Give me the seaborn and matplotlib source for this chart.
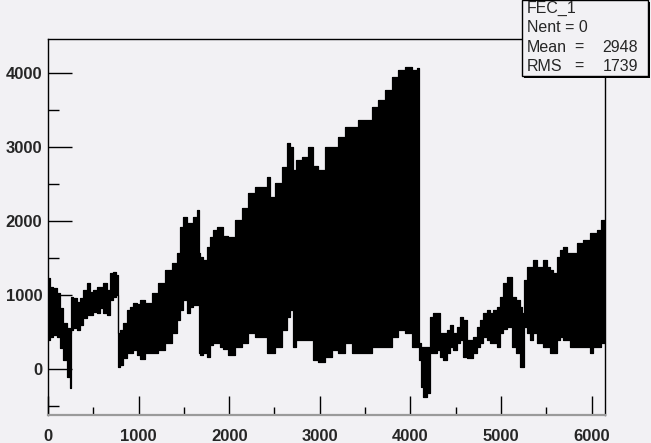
import matplotlib
matplotlib.use("Agg")
import matplotlib.pyplot as plt
import seaborn as sns
import pandas as pd
from matplotlib.patches import Rectangle
from matplotlib.ticker import MultipleLocator

# envelope of the FEC_1 channel trace
env_x = [0, 40, 77, 114, 151, 188, 224, 254, 261, 298, 335, 372, 408, 445, 482, 519,
         555, 593, 629, 666, 703, 740, 769, 776, 813, 850, 886, 924, 960, 997, 1034,
         1107, 1181, 1255, 1328, 1402, 1438, 1476, 1512, 1549, 1586, 1623, 1659, 1670,
         1696, 1733, 1769, 1807, 1843, 1880, 1917, 1954, 2028, 2100, 2174, 2248, 2320,
         2395, 2432, 2468, 2542, 2616, 2652, 2690, 2708, 2763, 2837, 2911, 2947, 3021,
         3094, 3168, 3242, 3315, 3389, 3462, 3535, 3609, 3683, 3756, 3830, 3904, 3977,
         4051, 4095, 4106, 4124, 4161, 4198, 4235, 4272, 4308, 4346, 4382, 4418, 4456,
         4492, 4529, 4566, 4603, 4640, 4677, 4713, 4750, 4787, 4823, 4860, 4898, 4934,
         4970, 5008, 5044, 5099, 5136, 5191, 5228, 5246, 5265, 5302, 5338, 5375, 5412,
         5449, 5486, 5522, 5559, 5596, 5633, 5670, 5706, 5743, 5780, 5817, 5853, 5890,
         5927, 5964, 6001, 6038, 6074, 6130, 6144]
env_upper = [1234, 1116, 1098, 1027, 824, 621, 554, 490, 981, 959, 914, 963, 1072, 1162,
             1049, 1072, 1116, 1116, 1162, 1072, 1297, 1319, 1274, 486, 531, 621, 801,
             846, 892, 880, 936, 892, 1027, 1162, 1342, 1432, 1568, 1927, 2062, 1973,
             1973, 2062, 2153, 1568, 1522, 1477, 1657, 1792, 1882, 1927, 1927, 1800,
             1792, 2018, 2176, 2378, 2468, 2468, 2603, 2332, 2514, 2738, 3054, 3008,
             2693, 2828, 2873, 3008, 2750, 2700, 3008, 3008, 3143, 3278, 3278, 3369,
             3369, 3549, 3639, 3774, 3954, 4045, 4089, 4045, 4067, 351, 305, 305, 305,
             711, 757, 757, 486, 486, 531, 599, 486, 576, 711, 666, 396, 396, 440, 576,
             666, 757, 801, 757, 801, 846, 981, 1160, 1251, 981, 936, 846, 757, 1207,
             1387, 1387, 1477, 1387, 1387, 1477, 1387, 1342, 1297, 1522, 1612, 1657,
             1568, 1568, 1568, 1703, 1703, 1747, 1747, 1838, 1838, 1882, 2018, 2018]
env_lower = [396, 440, 463, 440, 284, 126, -100, -257, 531, 554, 531, 599, 693, 734, 734,
             779, 757, 824, 757, 734, 936, 981, 1004, 35, 58, 149, 216, 216, 261, 193,
             140, 216, 216, 261, 351, 486, 666, 801, 936, 757, 846, 869, 869, 216, 193,
             216, 170, 328, 351, 351, 305, 280, 190, 305, 351, 486, 440, 440, 216, 216,
             305, 531, 711, 801, 305, 396, 396, 396, 126, 100, 170, 261, 216, 351, 216,
             216, 216, 305, 305, 305, 440, 531, 486, 305, 305, 126, -235, -370, -324,
             216, 216, 261, 170, 126, 216, 305, 261, 351, 396, 170, 149, 149, 216, 305,
             351, 440, 396, 351, 351, 305, 486, 550, 576, 305, 216, 35, 35, 576, 486,
             396, 486, 351, 351, 305, 305, 216, 216, 396, 440, 396, 396, 305, 305, 305,
             305, 305, 305, 216, 305, 305, 351, 351]

stat_name = "FEC_1"
stat_nent = 0
stat_mean = 2948
stat_rms = 1739

bg = "#f2f1f4"
sns.set_theme(style="ticks")
plt.rcParams["font.family"] = ["Liberation Sans", "DejaVu Sans"]

df = pd.DataFrame({"x": env_x, "upper": env_upper, "lower": env_lower})

fig = plt.figure(figsize=(6.51, 4.43), dpi=100, facecolor=bg)
W, H = 651, 443
ax = fig.add_axes([48 / W, 1 - 415 / H, (605 - 48) / W, (415 - 39) / H])
ax.set_facecolor(bg)

# histogram-like blocky envelope
ax.fill_between(df["x"], df["lower"], df["upper"], color="black", lw=0.8, step="mid")
sns.lineplot(data=df, x="x", y="upper", ax=ax, color="black", lw=0.8, drawstyle="steps-mid")
sns.lineplot(data=df, x="x", y="lower", ax=ax, color="black", lw=0.8, drawstyle="steps-mid")

ax.set_xlim(0, 6148)
ax.set_ylim(-618, 4464)
ax.set_xlabel("")
ax.set_ylabel("")
ax.xaxis.set_major_locator(MultipleLocator(1000))
ax.xaxis.set_minor_locator(MultipleLocator(500))
ax.yaxis.set_major_locator(MultipleLocator(1000))
ax.yaxis.set_minor_locator(MultipleLocator(500))
ax.tick_params(axis="x", which="major", direction="in", length=14, width=1, color="black",
               labelsize=12, pad=10)
ax.tick_params(axis="x", which="minor", direction="in", length=6, width=1, color="black")
ax.tick_params(axis="y", which="major", direction="in", length=17, width=1, color="black",
               labelsize=12, pad=4)
ax.tick_params(axis="y", which="minor", direction="in", length=8, width=1, color="black")
for lab in ax.get_xticklabels() + ax.get_yticklabels():
    lab.set_fontweight("bold")
for s in ax.spines.values():
    s.set_color("black")
    s.set_linewidth(1)
ax.spines["bottom"].set_color("#9a9a9a")
ax.spines["bottom"].set_linewidth(1.6)

# stats box with shadow, top right
bx0, by0, bx1, by1 = 522, 0, 648, 76
fig.patches.append(Rectangle((bx0 / W + 2 / W, 1 - (by1 + 2) / H), (bx1 - bx0) / W, (by1 - by0) / H,
                             transform=fig.transFigure, facecolor="black", edgecolor="none", zorder=5))
fig.patches.append(Rectangle((bx0 / W, 1 - by1 / H), (bx1 - bx0) / W, (by1 - by0) / H,
                             transform=fig.transFigure, facecolor=bg, edgecolor="black", lw=1, zorder=6))

rows = [(stat_name, "", ""), (f"Nent = {stat_nent}", "", ""),
        ("Mean", "=", f"{stat_mean}"), ("RMS", "=", f"{stat_rms}")]
for i, (a, b, c) in enumerate(rows):
    yy = 1 - (8 + i * 19.5) / H
    fig.text(527 / W, yy, a, fontsize=11.5, va="center", ha="left", zorder=7)
    if b:
        fig.text(579 / W, yy, b, fontsize=11.5, va="center", ha="center", zorder=7)
        fig.text(638 / W, yy, c, fontsize=11.5, va="center", ha="right", zorder=7)

fig.savefig("out.png", dpi=100, facecolor=bg)
